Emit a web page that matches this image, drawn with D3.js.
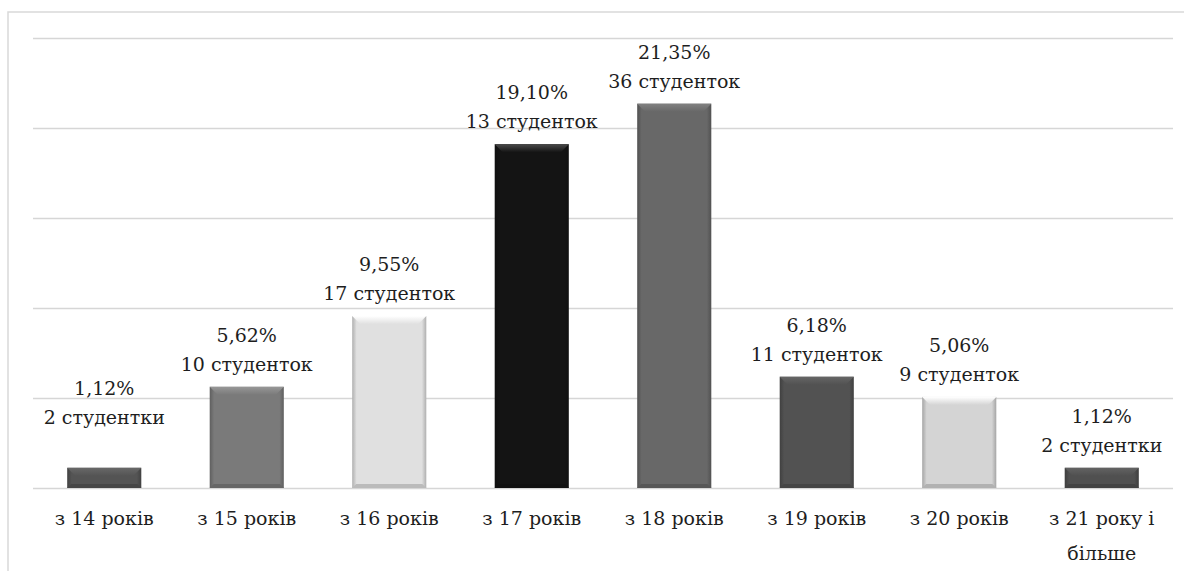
<!DOCTYPE html>
<html>
<head>
<meta charset="utf-8">
<script src="https://cdn.jsdelivr.net/npm/d3@7"></script>
<style>
  html, body { margin: 0; padding: 0; background: #fff; }
  svg { display: block; }
</style>
</head>
<body>
<svg id="chart" width="1184" height="571"></svg>
<script>
// ---- data ----
const categories = ["з 14 років", "з 15 років", "з 16 років", "з 17 років", "з 18 років", "з 19 років", "з 20 років", "з 21 року і більше"];
const categoryLines = [["з 14 років"], ["з 15 років"], ["з 16 років"], ["з 17 років"], ["з 18 років"], ["з 19 років"], ["з 20 років"], ["з 21 року і", "більше"]];
const percents = [1.12, 5.62, 9.55, 19.10, 21.35, 6.18, 5.06, 1.12];
const percentLabels = ["1,12%", "5,62%", "9,55%", "19,10%", "21,35%", "6,18%", "5,06%", "1,12%"];
const countLabels = ["2 студентки", "10 студенток", "17 студенток", "13 студенток", "36 студенток", "11 студенток", "9 студенток", "2 студентки"];
const yTicks = [0, 5, 10, 15, 20, 25];

// ---- style ----
const barColors = ["#545454", "#7a7a7a", "#e0e0e0", "#141414", "#686868", "#525252", "#d4d4d4", "#505050"];
const labelLift = [28, 0, 0, 0, 0, 0, 0, 0];
const FONT = "DejaVu Serif";

const svg = d3.select("#chart");
const W = 1184, H = 571;

svg.append("rect").attr("x", 8).attr("y", 12).attr("width", W).attr("height", H)
  .attr("fill", "#fff").attr("stroke", "#d9d9d9").attr("stroke-width", 1.5);

const x = d3.scaleBand().domain(categories).range([33, 1173]).paddingInner(0.48).paddingOuter(0.24);
const y = d3.scaleLinear().domain([0, 25]).range([488, 38]);

const grid = svg.append("g").attr("transform", "translate(33,0)")
  .call(d3.axisLeft(y).tickValues(yTicks).tickSize(-1140).tickFormat(""));
grid.select(".domain").remove();
grid.selectAll(".tick line").attr("stroke", "#d6d6d6").attr("stroke-width", 1.5);

const defs = svg.append("defs");
categories.forEach((c, i) => {
  const base = d3.color(barColors[i]);
  const light = barColors[i] === "#141414" ? "#4a4a4a" : d3.color(barColors[i]).brighter(0.6).formatHex();
  const dark = d3.color(barColors[i]).darker(0.7).formatHex();
  const gh = defs.append("linearGradient").attr("id", "gh" + i).attr("x1", 0).attr("x2", 1).attr("y1", 0).attr("y2", 0);
  gh.append("stop").attr("offset", "0").attr("stop-color", dark);
  gh.append("stop").attr("offset", "0.06").attr("stop-color", base.formatHex());
  gh.append("stop").attr("offset", "0.94").attr("stop-color", base.formatHex());
  gh.append("stop").attr("offset", "1").attr("stop-color", dark);
  const gv = defs.append("linearGradient").attr("id", "gv" + i).attr("x1", 0).attr("x2", 0).attr("y1", 0).attr("y2", 1);
  gv.append("stop").attr("offset", "0").attr("stop-color", light);
  gv.append("stop").attr("offset", "1").attr("stop-color", base.formatHex());
});

const bars = svg.append("g").selectAll("g").data(categories).join("g");
bars.append("rect")
  .attr("x", d => x(d))
  .attr("y", (d, i) => y(percents[i]))
  .attr("width", x.bandwidth())
  .attr("height", (d, i) => y(0) - y(percents[i]))
  .attr("fill", (d, i) => `url(#gh${i})`);
bars.append("path")
  .attr("d", (d, i) => {
    const x0 = x(d), x1 = x(d) + x.bandwidth(), t = y(percents[i]);
    const b = Math.min(8, (y(0) - t) / 2);
    return `M${x0},${t} L${x1},${t} L${x1 - b},${t + b} L${x0 + b},${t + b} Z`;
  })
  .attr("fill", (d, i) => `url(#gv${i})`);
bars.append("path")
  .attr("d", (d, i) => {
    const x0 = x(d), x1 = x(d) + x.bandwidth(), b0 = y(0);
    const b = Math.min(4, (y(0) - y(percents[i])) / 3);
    return `M${x0},${b0} L${x1},${b0} L${x1 - b},${b0 - b} L${x0 + b},${b0 - b} Z`;
  })
  .attr("fill", (d, i) => d3.color(barColors[i]).darker(0.5).formatHex());

const labels = svg.append("g").selectAll("text").data(categories).join("text")
  .attr("font-family", FONT).attr("fill", "#1e1e1e")
  .attr("text-anchor", "middle").attr("font-size", 19);
labels.append("tspan")
  .attr("x", d => x(d) + x.bandwidth() / 2)
  .attr("y", (d, i) => y(percents[i]) - 45 - labelLift[i])
  .text((d, i) => percentLabels[i]);
labels.append("tspan")
  .attr("x", d => x(d) + x.bandwidth() / 2)
  .attr("y", (d, i) => y(percents[i]) - 16 - labelLift[i])
  .text((d, i) => countLabels[i]);

const cat = svg.append("g").selectAll("text").data(categories).join("text")
  .attr("font-family", FONT).attr("fill", "#1e1e1e")
  .attr("text-anchor", "middle").attr("font-size", 19);
cat.each(function(d, i) {
  const t = d3.select(this);
  categoryLines[i].forEach((line, k) => {
    t.append("tspan").attr("x", x(d) + x.bandwidth() / 2).attr("y", 525 + k * 35).text(line);
  });
});
</script>
</body>
</html>
